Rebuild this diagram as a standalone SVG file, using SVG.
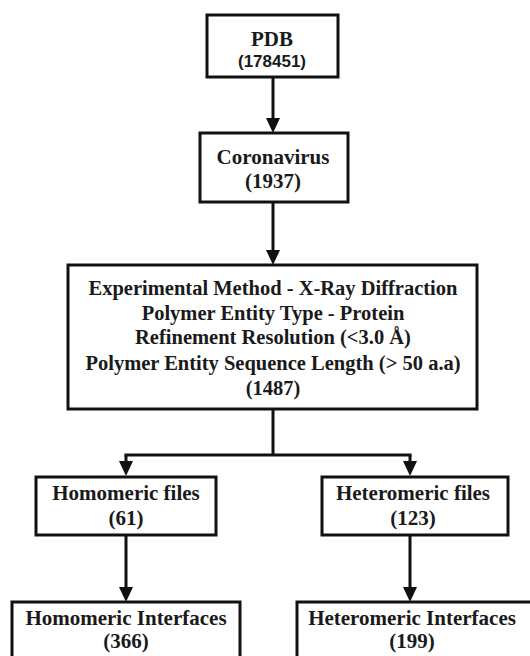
<svg xmlns="http://www.w3.org/2000/svg" width="530" height="656" viewBox="0 0 530 656">
<style>
.box{fill:#fff;stroke:#111;stroke-width:3}
.t{font-family:"Liberation Serif","Times New Roman",serif;font-weight:bold;font-size:21px;fill:#1a1a1a;text-anchor:middle}
.b{font-size:20.5px}
.s{font-family:"Liberation Sans",Arial,sans-serif;font-weight:bold;font-size:17px;fill:#1a1a1a;text-anchor:middle}
.c{fill:none;stroke:#111;stroke-width:3}
</style>
<defs>
<marker id="ah" markerUnits="userSpaceOnUse" markerWidth="16" markerHeight="14" refX="3" refY="7" orient="auto">
<path d="M0,0 L15,7 L0,14 z" fill="#111"/>
</marker>
</defs>
<rect width="530" height="656" fill="#fff"/>
<g id="connectors">
<line class="c" x1="273" y1="77" x2="273" y2="121" marker-end="url(#ah)"/>
<line class="c" x1="273" y1="202" x2="273" y2="253" marker-end="url(#ah)"/>
<polyline class="c" points="273,409 273,455"/>
<line class="c" x1="124.5" y1="455" x2="411.5" y2="455"/>
<line class="c" x1="126" y1="455" x2="126" y2="464" marker-end="url(#ah)"/>
<line class="c" x1="410" y1="455" x2="410" y2="464" marker-end="url(#ah)"/>
<line class="c" x1="126" y1="535" x2="126" y2="590" marker-end="url(#ah)"/>
<line class="c" x1="410" y1="535" x2="410" y2="590" marker-end="url(#ah)"/>
</g>
<g id="pdb">
<rect class="box" x="207" y="15" width="131" height="62"/>
<text class="t" x="272" y="46">PDB</text>
<text class="s" x="272" y="67">(178451)</text>
</g>
<g id="coronavirus">
<rect class="box" x="200" y="133" width="148" height="69"/>
<text class="t" x="273" y="164">Coronavirus</text>
<text class="t" x="273" y="188">(1937)</text>
</g>
<g id="filters">
<rect class="box" x="68" y="265" width="409" height="144"/>
<text class="t b" x="273" y="295">Experimental Method - X-Ray Diffraction</text>
<text class="t b" x="273" y="320">Polymer Entity Type - Protein</text>
<text class="t b" x="273" y="344">Refinement Resolution (&lt;3.0 Å)</text>
<text class="t b" x="273" y="370">Polymer Entity Sequence Length (&gt; 50 a.a)</text>
<text class="t b" x="273" y="395">(1487)</text>
</g>
<g id="homomeric-files">
<rect class="box" x="36" y="477" width="180" height="58"/>
<text class="t" x="126" y="500">Homomeric files</text>
<text class="t" x="126" y="525">(61)</text>
</g>
<g id="heteromeric-files">
<rect class="box" x="322" y="477" width="186" height="58"/>
<text class="t" x="413" y="500">Heteromeric files</text>
<text class="t" x="413" y="525">(123)</text>
</g>
<g id="homomeric-interfaces">
<rect class="box" x="12" y="602" width="228" height="70"/>
<text class="t" x="126" y="625">Homomeric Interfaces</text>
<text class="t" x="126" y="648">(366)</text>
</g>
<g id="heteromeric-interfaces">
<rect class="box" x="297" y="602" width="240" height="70"/>
<text class="t" x="412" y="625">Heteromeric Interfaces</text>
<text class="t" x="412" y="648">(199)</text>
</g>
</svg>
